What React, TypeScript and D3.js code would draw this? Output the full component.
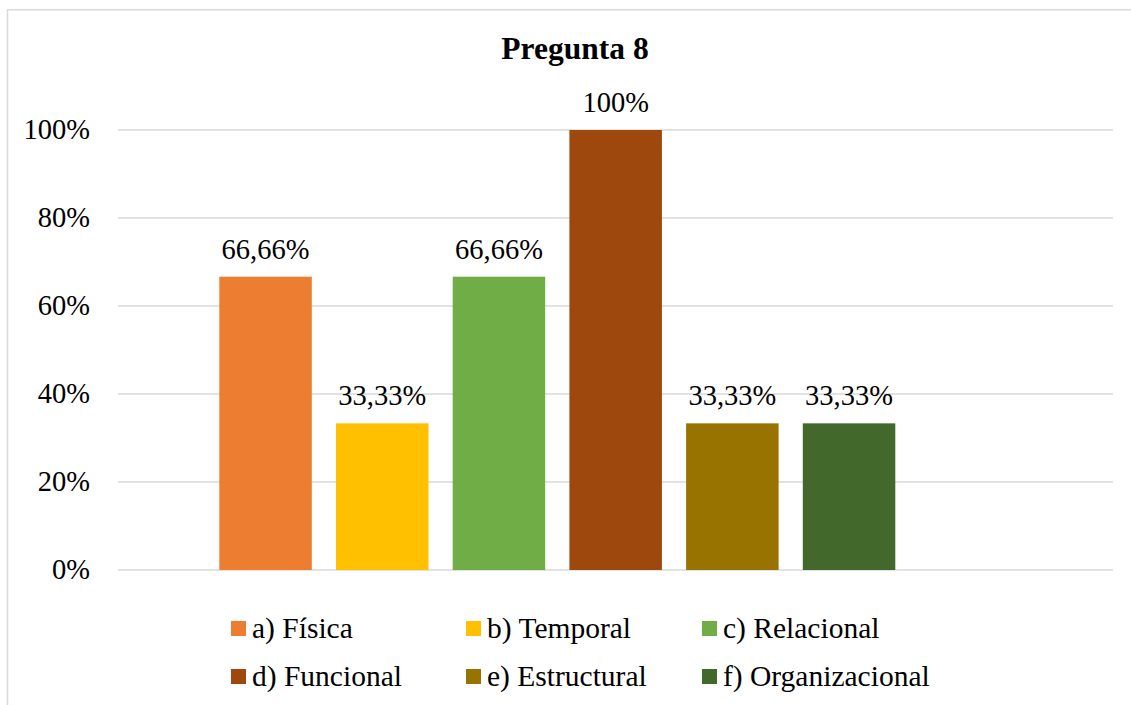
import React from "react";
import * as d3 from "d3";

const categories = ["a) Física", "b) Temporal", "c) Relacional", "d) Funcional", "e) Estructural", "f) Organizacional"];
const values = [0.6666, 0.3333, 0.6666, 1.0, 0.3333, 0.3333];
const valueLabels = ["66,66%", "33,33%", "66,66%", "100%", "33,33%", "33,33%"];
const colors = ["#ED7D31", "#FFC000", "#70AD47", "#9E480E", "#997300", "#43682B"];
const yTicks = [0, 0.2, 0.4, 0.6, 0.8, 1.0];
const title = "Pregunta 8";

const W = 1131;
const H = 705;
const FONT = "'Liberation Serif', 'Times New Roman', serif";

export default function App() {
  const plotLeft = 118;
  const plotRight = 1113;
  const y = d3.scaleLinear().domain([0, 1]).range([570, 130]);
  const step = 116.7;
  const inner = (step - 92.5) / step;
  const x = d3
    .scaleBand<string>()
    .domain(categories)
    .range([219.3 - (inner / 2) * step, 219.3 - (inner / 2) * step + step * categories.length])
    .paddingInner(inner)
    .paddingOuter(inner / 2);

  const legendCols = [231, 466, 702];
  const legendRows = [621, 669];

  return (
    <svg width={W} height={H} style={{ position: "absolute", left: 0, top: 0, background: "#fff" }} fontFamily={FONT}>
      <rect x={0} y={0} width={W} height={H} fill="#fff" />
      <rect x={7.5} y={9.75} width={W + 100} height={H + 100} fill="none" stroke="#d9d9d9" strokeWidth={1.5} />
      <text x={575} y={59} textAnchor="middle" fontSize={31.5} fontWeight="bold" fill="#000">
        {title}
      </text>
      {yTicks.map((t) => (
        <g key={t}>
          <line x1={plotLeft} x2={plotRight} y1={y(t)} y2={y(t)} stroke="#d9d9d9" strokeWidth={1.5} />
          <text x={90} y={y(t)} dy="0.3em" textAnchor="end" fontSize={28.5} fill="#000">
            {d3.format(".0%")(t)}
          </text>
        </g>
      ))}
      {categories.map((c, i) => (
        <g key={c}>
          <rect x={x(c)} y={y(values[i])} width={x.bandwidth()} height={y(0) - y(values[i])} fill={colors[i]} />
          <text x={(x(c) as number) + x.bandwidth() / 2} y={y(values[i]) - 18} textAnchor="middle" fontSize={28.5} fill="#000">
            {valueLabels[i]}
          </text>
        </g>
      ))}
      {categories.map((c, i) => {
        const col = i % 3;
        const row = Math.floor(i / 3);
        const lx = legendCols[col];
        const ly = legendRows[row];
        return (
          <g key={"lg" + c}>
            <rect x={lx} y={ly} width={15} height={15} fill={colors[i]} />
            <text x={lx + 21} y={ly + 17} fontSize={29.5} fill="#000">
              {c}
            </text>
          </g>
        );
      })}
    </svg>
  );
}
